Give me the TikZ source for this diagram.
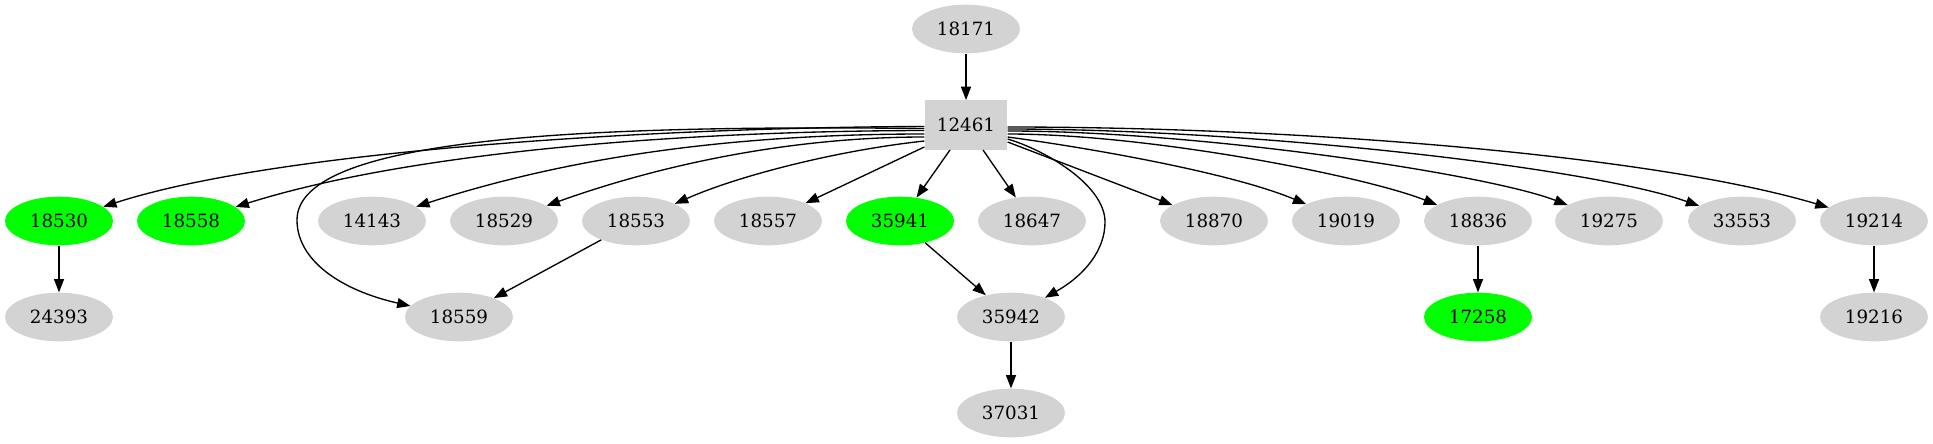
\documentclass[tikz,border=0pt]{standalone}
\usepackage{fontspec}
\setmainfont{DejaVu Serif}
\usetikzlibrary{shapes.geometric,arrows.meta,calc}
\definecolor{ngray}{HTML}{D3D3D3}
\definecolor{ngreen}{HTML}{00FF00}
\begin{document}
\begin{tikzpicture}[x=0.75pt,y=-0.75pt,
  gnode/.style={ellipse,fill=ngray,minimum width=81pt,minimum height=36.5pt,inner sep=0pt,font=\fontsize{13.7}{16}\selectfont},
  greennode/.style={gnode,fill=ngreen},
  boxnode/.style={rectangle,fill=ngray,minimum width=62pt,minimum height=37pt,inner sep=0pt,font=\fontsize{13.7}{16}\selectfont},
  edge/.style={draw=black,line width=1pt,-{Triangle[length=10pt,width=7.5pt]}}]
\useasboundingbox (0,0) rectangle (1933,443);
% nodes
\node[gnode] (n18171) at (966,29) {18171};
\node[boxnode] (n12461) at (966,125) {12461};
\node[greennode] (n18530) at (59,221) {18530};
\node[greennode] (n18558) at (191,221) {18558};
\node[gnode] (n14143) at (372,221) {14143};
\node[gnode] (n18529) at (504,221) {18529};
\node[gnode] (n18553) at (636,221) {18553};
\node[gnode] (n18557) at (768,221) {18557};
\node[greennode] (n35941) at (900,221) {35941};
\node[gnode] (n18647) at (1032,221) {18647};
\node[gnode] (n18870) at (1214,221) {18870};
\node[gnode] (n19019) at (1346,221) {19019};
\node[gnode] (n18836) at (1478,221) {18836};
\node[gnode] (n19275) at (1609,221) {19275};
\node[gnode] (n33553) at (1742,221) {33553};
\node[gnode] (n19214) at (1874,221) {19214};
\node[gnode] (n24393) at (59,317) {24393};
\node[gnode] (n18559) at (459,317) {18559};
\node[gnode] (n35942) at (1011,317) {35942};
\node[greennode] (n17258) at (1478,317) {17258};
\node[gnode] (n19216) at (1874,317) {19216};
\node[gnode] (n37031) at (1011,413) {37031};
% edges
\draw[edge] (n18171) -- (n12461);
\draw[edge] ($(n12461.west)+(0,1.5)$) .. controls (680,127) and (285,148) .. (n18530);
\draw[edge] ($(n12461.west)+(0,5.5)$) .. controls (680,131) and (410,152) .. (n18558);
\draw[edge] ($(n12461.west)+(0,9)$) .. controls (720,134) and (560,160) .. (n14143);
\draw[edge] ($(n12461.west)+(0,12)$) .. controls (790,137) and (660,165) .. (n18529);
\draw[edge] ($(n12461.west)+(0,16)$) .. controls (840,150) and (740,175) .. (n18553);
\draw[edge] ($(n12461.south west)+(0,-3)$) -- (n18557);
\draw[edge] ($(n12461.south)+(-16,0)$) -- (n35941);
\draw[edge] ($(n12461.south)+(17,0)$) -- (n18647);
\draw[edge] ($(n12461.east)+(0,17)$) -- (n18870);
\draw[edge] ($(n12461.east)+(0,12)$) .. controls (1090,148) and (1232,173) .. (n19019);
\draw[edge] ($(n12461.east)+(0,9)$) .. controls (1150,134) and (1364,176) .. (n18836);
\draw[edge] ($(n12461.east)+(0,6)$) .. controls (1200,131) and (1487,174) .. (n19275);
\draw[edge] ($(n12461.east)+(0,4)$) .. controls (1250,129) and (1589,167) .. (n33553);
\draw[edge] ($(n12461.east)+(0,2)$) .. controls (1300,127) and (1652,155) .. (n19214);
\draw[edge] ($(n12461.east)+(0,14)$) .. controls (1045,150) and (1105,185) .. (1105,222)
  .. controls (1105,250) and (1085,275) .. (n35942);
\draw[edge] ($(n12461.west)+(0,3.5)$) .. controls (600,125) and (297,135) .. (297,220)
  .. controls (297,260) and (340,290) .. (n18559);
\draw[edge] (n18530) -- (n24393);
\draw[edge] (n18553) -- (n18559);
\draw[edge] (n35941) -- (n35942);
\draw[edge] (n35942) -- (n37031);
\draw[edge] (n18836) -- (n17258);
\draw[edge] (n19214) -- (n19216);
\end{tikzpicture}
\end{document}
